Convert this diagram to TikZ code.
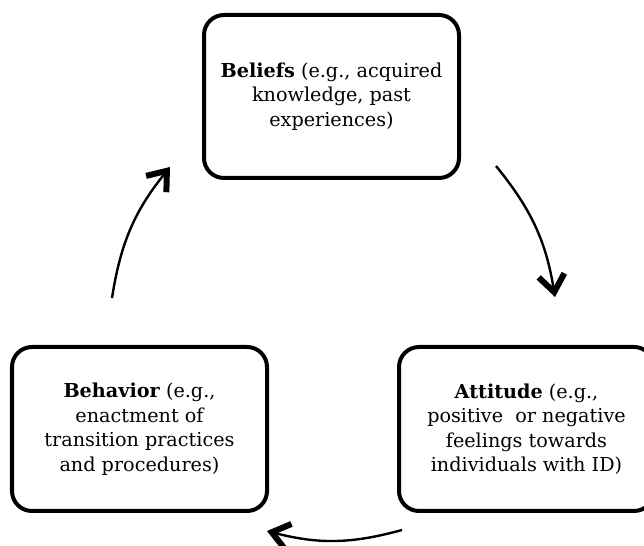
\documentclass[tikz,border=0pt]{standalone}
\usepackage{fontspec}
\setmainfont{DejaVu Serif}
\usetikzlibrary{arrows.meta}

\begin{document}
\begin{tikzpicture}[x=10bp,y=10bp,
  stage/.style={draw,line width=4bp,rounded corners=20bp,align=center,inner sep=0pt,
    minimum width=255bp,minimum height=164bp,font=\fontsize{19.2bp}{24.5bp}\selectfont},
  cycle/.style={line width=2.4bp,-{Straight Barb[length=17bp,width=26bp,line width=6bp]}}]
\useasboundingbox (0,0) rectangle (64.4,54.6);

%Stages
\node (bel) at (33.15,44.95) [stage,minimum height=163bp] {\textbf{Beliefs} (e.g., acquired\\ knowledge, past\\ experiences)};
\node (att) at (52.65,11.7) [stage] {\textbf{Attitude} (e.g.,\\ positive~ or negative\\ feelings towards\\ individuals with ID)};
\node (beh) at (13.95,11.7) [stage] {\textbf{Behavior} (e.g.,\\ enactment of\\ transition practices\\ and procedures)};

%Arrow ends
\coordinate (bel-out) at (49.6,38.0);
\coordinate (att-in)  at (55.5,24.9);
\coordinate (att-out) at (40.2,1.6);
\coordinate (beh-in)  at (26.7,1.5);
\coordinate (beh-out) at (11.2,24.8);
\coordinate (bel-in)  at (17.0,37.9);

%Cycle
\draw[cycle] (bel-out) to[bend left=15] (att-in);
\draw[cycle] (att-out) to[bend left=15] (beh-in);
\draw[cycle] (beh-out) to[bend left=15] (bel-in);

\end{tikzpicture}
\end{document}
